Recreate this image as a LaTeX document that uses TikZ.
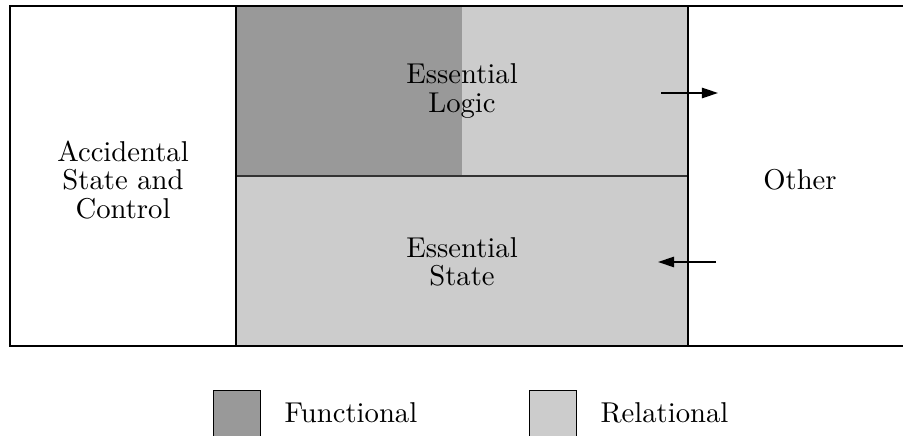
\documentclass[tikz,border=0pt]{standalone}
\usetikzlibrary{arrows.meta}
\definecolor{darkfill}{HTML}{999999}
\definecolor{lightfill}{HTML}{CCCCCC}
\tikzset{
  lbl/.style={align=center, font=\fontsize{10}{9.8}\selectfont, inner sep=0pt},
  frameline/.style={line width=0.6pt, black},
  divline/.style={line width=0.8pt, black},
  midline/.style={line width=0.7pt, black!80},
  flow/.style={line width=0.6pt, -{Triangle[length=5.6pt,width=3.6pt]}},
  legbox/.style={draw, line width=0.4pt, minimum width=16.4pt, minimum height=16.4pt, inner sep=0pt, anchor=north west},
}
\begin{document}
\begin{tikzpicture}[x=0.3487pt, y=-0.3487pt]
\useasboundingbox (0,0) rectangle (903,436);
% fills
\fill[lightfill] (236,6) rectangle (688,346);
\fill[darkfill] (236,6) rectangle (462,176);
% frame
\draw[frameline] (920,6) -- (10,6) -- (10,346) -- (920,346);
\draw[midline] (236,176) -- (688,176);
\draw[divline] (236,6) -- (236,346);
\draw[divline] (688,6) -- (688,346);
% labels
\node[lbl] (acc) at (123,180) {Accidental\\State and\\Control};
\node[lbl] (logic) at (462,91) {Essential\\Logic};
\node[lbl] (state) at (462,262) {Essential\\State};
\node[lbl] (other) at (800,180) {Other};
% arrows
\coordinate (a1s) at (661,93);
\coordinate (a1e) at (718,93);
\coordinate (a2s) at (716,262);
\coordinate (a2e) at (658,262);
\draw[flow] (a1s) -- (a1e);
\draw[flow] (a2s) -- (a2e);
% legend
\node[legbox, fill=darkfill] (lf) at (213,390) {};
\node[lbl, anchor=west] (lft) at (284,413) {Functional};
\node[legbox, fill=lightfill] (lr) at (529,390) {};
\node[lbl, anchor=west] (lrt) at (600,413) {Relational};
\end{tikzpicture}
\end{document}
